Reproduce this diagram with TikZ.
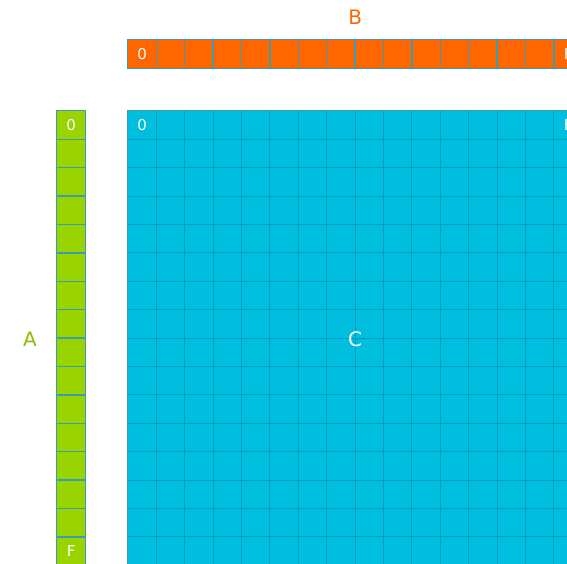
\documentclass[tikz,border=0pt]{standalone}
\usepackage{fontspec}
\setmainfont{DejaVu Sans}
\definecolor{CellOrange}{HTML}{FF6600}
\definecolor{CellGreen}{HTML}{99D300}
\definecolor{CellCyan}{HTML}{00BFDE}
\definecolor{CellEdge}{HTML}{3C9DB0}
\definecolor{GridEdge}{HTML}{009CC4}

\begin{document}
\begin{tikzpicture}[x=1cm, y=1cm, every node/.style={align=center}]
      \useasboundingbox (-4.507,3.908) rectangle (15.458,-15.95);
      % matrix C
      \foreach \i in {0,...,15} {
        \foreach \j in {0,...,15} {
          \node[fill=CellCyan, minimum size=1cm, inner sep=0pt, text=white,
                font=\fontsize{15}{15}\selectfont] (c\i-\j) at (\j+0.5,-\i-0.5)
                {\ifnum\i=0 \ifnum\j=0 0\fi\ifnum\j=15 F\fi\fi};
        }
      }
      \draw[GridEdge, line width=1pt] (c0-0.north west) grid (c15-15.south east);
      \draw[CellEdge, line width=1pt] (c0-0.north west) rectangle (c15-15.south east);
      % vector B
      \foreach \j in {0,...,15} {
        \node[fill=CellOrange, minimum size=1cm, inner sep=0pt, text=white,
              font=\fontsize{15}{15}\selectfont] (b\j) at (\j+0.5,2)
              {\ifnum\j=0 0\fi\ifnum\j=15 F\fi};
      }
      \foreach \j in {0,...,15}
        \draw[CellEdge, line width=1pt] (b\j.north west) rectangle (b\j.south east);
      % vector A
      \foreach \i in {0,...,15} {
        \node[fill=CellGreen, minimum size=1cm, inner sep=0pt, text=white,
              font=\fontsize{15}{15}\selectfont] (a\i) at (-2,-\i-0.5)
              {\ifnum\i=0 0\fi\ifnum\i=15 F\fi};
      }
      \foreach \i in {0,...,15}
        \draw[CellEdge, line width=1pt] (a\i.north west) rectangle (a\i.south east);
      \node[text=CellOrange, font=\fontsize{20}{20}\selectfont] (labB) at (8,3.31) {B};
      \node[text=CellGreen!90!black, font=\fontsize{20}{20}\selectfont] (labA) at (-3.45,-8.05) {A};
      \node[text=white, font=\fontsize{20}{20}\selectfont] (labC) at (8,-8.05) {C};
    \end{tikzpicture}
\end{document}
